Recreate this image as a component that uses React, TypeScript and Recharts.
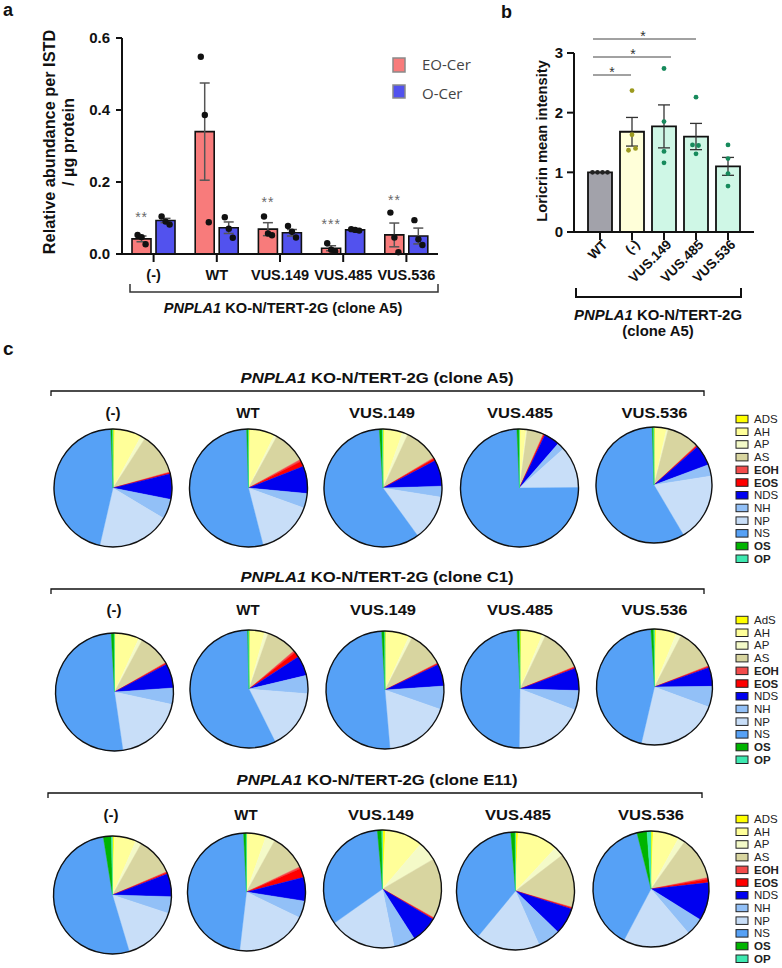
import React from 'react';
import { ComposedChart, Bar, Scatter, XAxis, YAxis, ErrorBar, PieChart, Pie, Cell } from 'recharts';

const SANS = "'Liberation Sans', Arial, Helvetica, sans-serif";

// panel a: EO-Cer / O-Cer per ISTD
const groups = ['(-)', 'WT', 'VUS.149', 'VUS.485', 'VUS.536'];
const eoCer = [0.042, 0.340, 0.069, 0.016, 0.053];
const eoCerSem = [0.008, 0.135, 0.018, 0.007, 0.033];
const eoCerReps = [
  [0.053, 0.047, 0.027],
  [0.548, 0.386, 0.088],
  [0.104, 0.057, 0.052],
  [0.030, 0.012, 0.007],
  [0.115, 0.046, 0.005],
];
const oCer = [0.093, 0.073, 0.059, 0.067, 0.050];
const oCerSem = [0.006, 0.016, 0.009, 0.001, 0.022];
const oCerReps = [
  [0.104, 0.090, 0.082],
  [0.102, 0.070, 0.045],
  [0.078, 0.062, 0.046],
  [0.069, 0.067, 0.065],
  [0.094, 0.041, 0.025],
];
const eoStars = ['**', '', '**', '***', '**'];
const eoStarLevel = [0.114, null, 0.156, 0.094, 0.161];

// panel b: loricrin
const loricrinGroups = ['WT', '(-)', 'VUS.149', 'VUS.485', 'VUS.536'];
const loricrin = [1.0, 1.68, 1.77, 1.60, 1.10];
const loricrinSem = [null, 0.24, 0.36, 0.22, 0.15];
const loricrinReps = [
  [1.0, 1.0, 1.0, 1.0],
  [2.37, 1.63, 1.37, 1.40],
  [2.74, 1.85, 1.35, 1.16],
  [2.26, 1.46, 1.45, 1.31],
  [1.46, 1.23, 0.98, 0.77],
];

// panel c: ceramide class composition (%), order = lipidClasses
const lipidClasses = ['ADS', 'AH', 'AP', 'AS', 'EOH', 'EOS', 'NDS', 'NH', 'NP', 'NS', 'OS', 'OP'];
const a5Neg = [0.5, 7.4, 1.2, 11.5, 0.2, 0.3, 7.0, 5.5, 20.0, 45.8, 0.5, 0.1];
const a5WT = [0.4, 6.8, 0.8, 9.0, 0.5, 1.5, 7.5, 4.0, 15.5, 53.5, 0.4, 0.1];
const a5V149 = [0.4, 5.0, 1.5, 9.5, 0.3, 0.6, 7.2, 3.0, 12.5, 59.0, 0.8, 0.2];
const a5V485 = [0.3, 1.5, 0.3, 4.5, 0.2, 0.3, 4.3, 2.0, 11.5, 74.5, 0.6, 0.1];
const a5V536 = [0.3, 3.2, 0.5, 9.0, 0.2, 0.3, 5.8, 3.2, 19.0, 58.0, 0.4, 0.1];
const c1Neg = [0.3, 6.5, 1.0, 8.9, 0.2, 0.3, 6.7, 4.5, 19.3, 51.4, 0.8, 0.1];
const c1WT = [0.3, 4.0, 1.0, 8.5, 0.5, 1.5, 5.5, 5.0, 16.4, 57.0, 0.3, 0.1];
const c1V149 = [0.3, 6.4, 0.9, 9.8, 0.2, 0.3, 6.0, 6.4, 18.3, 50.4, 0.8, 0.1];
const c1V485 = [0.4, 5.8, 0.9, 11.7, 0.2, 0.3, 6.1, 5.4, 19.4, 49.0, 0.7, 0.1];
const c1V536 = [0.5, 5.7, 1.4, 11.4, 0.2, 0.3, 5.3, 5.8, 23.0, 45.3, 0.8, 0.2];
const e11Neg = [0.5, 6.0, 1.6, 10.4, 0.2, 0.4, 6.3, 4.6, 15.3, 52.0, 2.2, 0.3];
const e11WT = [0.3, 5.1, 2.6, 10.0, 0.5, 2.5, 6.5, 4.7, 19.7, 47.4, 0.7, 0.1];
const e11V149 = [0.8, 10.4, 5.3, 16.5, 0.2, 0.3, 7.3, 5.9, 18.3, 33.3, 1.2, 0.2];
const e11V485 = [0.7, 11.2, 2.7, 14.9, 0.2, 0.3, 7.3, 6.2, 17.6, 37.8, 1.2, 0.1];
const e11V536 = [0.6, 7.3, 1.9, 12.0, 0.4, 1.0, 10.6, 4.9, 18.9, 38.3, 2.8, 1.1];

const cloneNames = ['A5', 'C1', 'E11'];
const legendFirstLabel = ['ADS', 'AdS', 'ADS'];
const pieRows = [
  [a5Neg, a5WT, a5V149, a5V485, a5V536],
  [c1Neg, c1WT, c1V149, c1V485, c1V536],
  [e11Neg, e11WT, e11V149, e11V485, e11V536],
];

// styling
const EO_COLOR = '#F87B7B';
const O_COLOR = '#5252EE';
const lipidColors = ['#FFFF00', '#FFFF99', '#F4FAC8', '#D8D5A0', '#F24B4B', '#FF0000', '#0000F0', '#92C0F7', '#C8DEF8', '#56A1F6', '#00B400', '#3DE8B0'];
const boldClasses = ['EOH', 'EOS', 'OS', 'OP'];
const loricrinFill = ['#A2A2AA', '#FFFFD9', '#CFF7E6', '#CFF7E6', '#CFF7E6'];
const loricrinDot = ['#222222', '#9C9A1E', '#178A5C', '#178A5C', '#178A5C'];
const repJitterA = [-4, 0, 4];
const repJitterB = [[-7.5, -2.5, 2.5, 7.5], [0, 0, -3.5, 3.5], [0, 0, 0, 0], [0, -3.5, 2.5, 0], [0, 0, 0, 0]];

const rowTop = [420, 620, 820];
const pieCenters = [
  [[113, 488], [248.5, 488], [383, 488], [519.5, 488], [654, 485]],
  [[114.5, 692], [249, 689], [385, 690], [520, 689], [654.5, 687]],
  [[112.5, 895], [246.5, 892], [382.5, 889], [515.5, 891], [651, 889]],
];
const pieRadius = [59, 59, 59, 59, 58];
const colLabelBase = [418, 615, 820];
const colLabelX = [[113, 248, 382, 520, 654.5], [114, 248, 383, 520, 654.5], [111, 246, 381, 518, 651]];
const titleBase = [383, 582, 785];
const bracketY = [391, 589, 793];
const bracketX = [[51, 704], [51, 704], [48, 702]];
const legendTop = [419, 620, 819];

const dataA = groups.map((g, i) => ({
  group: g,
  eo: eoCer[i],
  eoErr: eoCerSem[i],
  o: oCer[i],
  oErr: oCerSem[i],
  eo0: eoCerReps[i][0], eo1: eoCerReps[i][1], eo2: eoCerReps[i][2],
  o0: oCerReps[i][0], o1: oCerReps[i][1], o2: oCerReps[i][2],
  star: eoStarLevel[i],
  starText: eoStars[i],
}));

const dataB = loricrinGroups.map((g, i) => ({
  group: g,
  mean: loricrin[i],
  sem: loricrinSem[i],
  r0: loricrinReps[i][0], r1: loricrinReps[i][1], r2: loricrinReps[i][2], r3: loricrinReps[i][3],
}));

const dotShape = (dx: number) => (p: any) =>
  p.cy == null || isNaN(p.cy) ? <g /> : <circle cx={p.cx + dx} cy={p.cy} r={3.2} fill="#111" />;

const starShape = (p: any) =>
  p.cy == null || isNaN(p.cy) || !p.payload?.starText ? <g /> : (
    <text x={p.cx - 12} y={p.cy + 9} textAnchor="middle" fontSize={14} fill="#6a6a6a" fontFamily={SANS} letterSpacing={1}>
      {p.payload.starText}
    </text>
  );

const lorDotShape = (k: number) => (p: any) => {
  if (p.cy == null || isNaN(p.cy)) return <g />;
  const gi = loricrinGroups.indexOf(p.payload?.group);
  return <circle cx={p.cx + repJitterB[gi][k]} cy={p.cy} r={2.4} fill={loricrinDot[gi]} />;
};

const RotTick = (p: any) => (
  <g transform={`translate(${p.x + 5},${p.y - 2})`}>
    <text x={0} y={0} dy="0.35em" textAnchor="end" transform="rotate(-45)" fontSize={13.5} fontWeight={700} fill="#111" fontFamily={SANS}>
      {p.payload.value}
    </text>
  </g>
);

const axisStyle = { stroke: '#111', strokeWidth: 2 };

function PanelA() {
  return (
    <div style={{ position: 'absolute', left: 0, top: 0 }}>
      <ComposedChart width={470} height={330} data={dataA} margin={{ top: 38, right: 32, bottom: 46, left: 0 }} barGap={5}>
        <XAxis dataKey="group" height={30} interval={0} axisLine={axisStyle} tickLine={axisStyle} tickSize={8} tickMargin={8}
          tick={{ fill: '#111', fontSize: 14.5, fontWeight: 700, fontFamily: SANS }} />
        <YAxis width={122} domain={[0, 0.6]} ticks={[0, 0.2, 0.4, 0.6]} tickFormatter={(v: number) => v.toFixed(1)}
          axisLine={axisStyle} tickLine={axisStyle} tickSize={6} tickMargin={6}
          tick={{ fill: '#111', fontSize: 15, fontWeight: 700, fontFamily: SANS }} />
        <Bar dataKey="eo" barSize={19} fill={EO_COLOR} stroke="#111" strokeWidth={1.6} isAnimationActive={false}>
          <ErrorBar dataKey="eoErr" width={5} stroke="#555" strokeWidth={1.5} />
        </Bar>
        <Bar dataKey="o" barSize={19} fill={O_COLOR} stroke="#111" strokeWidth={1.6} isAnimationActive={false}>
          <ErrorBar dataKey="oErr" width={5} stroke="#555" strokeWidth={1.5} />
        </Bar>
        {[0, 1, 2].map((k) => (
          <Scatter key={'eo' + k} dataKey={'eo' + k} shape={dotShape(-12 + repJitterA[k])} legendType="none" isAnimationActive={false} />
        ))}
        {[0, 1, 2].map((k) => (
          <Scatter key={'o' + k} dataKey={'o' + k} shape={dotShape(12 + repJitterA[k])} legendType="none" isAnimationActive={false} />
        ))}
        <Scatter dataKey="star" shape={starShape} legendType="none" isAnimationActive={false} />
      </ComposedChart>
    </div>
  );
}

function PanelB() {
  return (
    <div style={{ position: 'absolute', left: 470, top: 0 }}>
      <ComposedChart width={312} height={340} data={dataB} margin={{ top: 53, right: 28, bottom: 38, left: 0 }}>
        <XAxis dataKey="group" height={70} interval={0} padding={{ left: 10, right: 10 }} axisLine={axisStyle} tickLine={axisStyle}
          tickSize={8} tickMargin={4} tick={<RotTick />} />
        <YAxis width={104} domain={[0, 3]} ticks={[0, 1, 2, 3]} axisLine={axisStyle} tickLine={axisStyle} tickSize={7} tickMargin={4}
          tick={{ fill: '#111', fontSize: 15, fontWeight: 700, fontFamily: SANS }} />
        <Bar dataKey="mean" barSize={24} stroke="#111" strokeWidth={1.8} isAnimationActive={false}>
          {dataB.map((d, i) => (
            <Cell key={d.group} fill={loricrinFill[i]} />
          ))}
          <ErrorBar dataKey="sem" width={6} stroke="#333" strokeWidth={1.3} />
        </Bar>
        {[0, 1, 2, 3].map((k) => (
          <Scatter key={'r' + k} dataKey={'r' + k} shape={lorDotShape(k)} legendType="none" isAnimationActive={false} />
        ))}
      </ComposedChart>
    </div>
  );
}

function PieRow({ row }: { row: number }) {
  const top = rowTop[row];
  const pies = pieRows[row];
  return (
    <div style={{ position: 'absolute', left: 0, top }}>
      <PieChart width={720} height={140} margin={{ top: 0, right: 0, bottom: 0, left: 0 }}>
        {pies.map((vals, k) => {
          const data = lipidClasses.map((c, j) => ({ name: c, value: vals[j] }));
          return (
            <Pie key={'p' + k} data={data} dataKey="value" nameKey="name" cx={pieCenters[row][k][0]} cy={pieCenters[row][k][1] - top}
              outerRadius={pieRadius[k]} startAngle={90} endAngle={-270} isAnimationActive={false} legendType="none">
              {data.map((d, j) => (
                <Cell key={d.name} fill={lipidColors[j]} stroke={lipidColors[j]} strokeWidth={0.4} />
              ))}
            </Pie>
          );
        })}
        {pies.map((vals, k) => (
          <Pie key={'o' + k} data={[{ name: 'all', value: 1 }]} dataKey="value" cx={pieCenters[row][k][0]} cy={pieCenters[row][k][1] - top}
            innerRadius={pieRadius[k]} outerRadius={pieRadius[k]} startAngle={90} endAngle={-270} fill="none" stroke="#111"
            strokeWidth={1.4} isAnimationActive={false} legendType="none" />
        ))}
      </PieChart>
    </div>
  );
}

const CloneTitle = ({ x, y, clone, size, len }: { x: number; y: number; clone: string; size: number; len?: number }) => (
  <text x={x} y={y} textAnchor="middle" fontSize={size} fontWeight={700} fill="#111" fontFamily={SANS}
    textLength={len} lengthAdjust={len ? 'spacingAndGlyphs' : undefined}>
    <tspan fontStyle="italic">PNPLA1</tspan> KO-N/TERT-2G{clone ? ` (clone ${clone})` : ''}
  </text>
);

function Overlay() {
  return (
    <svg width={782} height={968} style={{ position: 'absolute', left: 0, top: 0, pointerEvents: 'none' }} fontFamily={SANS}>
      <text x={3} y={16} fontSize={18} fontWeight={700} fill="#111">a</text>
      <text x={501} y={18} fontSize={18} fontWeight={700} fill="#111">b</text>
      <text x={3} y={355} fontSize={19} fontWeight={700} fill="#111">c</text>

      {/* panel a */}
      <text transform="translate(55,142) rotate(-90)" textAnchor="middle" fontSize={16.3} fontWeight={700} fill="#111">Relative abundance per ISTD</text>
      <text transform="translate(74,142) rotate(-90)" textAnchor="middle" fontSize={16.3} fontWeight={700} fill="#111">/ µg protein</text>
      <rect x={393} y={58} width={12} height={14} fill={EO_COLOR} stroke="#8a8a8a" strokeWidth={1.5} />
      <text x={422} y={70} fontSize={15} fill="#444" fontFamily="'Open Sans', sans-serif">EO-Cer</text>
      <rect x={393} y={85} width={12} height={13} fill={O_COLOR} stroke="#8a8a8a" strokeWidth={1.5} />
      <text x={422} y={99} fontSize={15} fill="#444" fontFamily="'Open Sans', sans-serif">O-Cer</text>
      <path d="M130 284 V292 H438 V284" fill="none" stroke="#333" strokeWidth={1.5} />
      <CloneTitle x={283} y={313} clone="A5" size={14.6} />

      {/* panel b */}
      <text transform="translate(547,141) rotate(-90)" textAnchor="middle" fontSize={14.7} fontWeight={700} fill="#111">Loricrin mean intensity</text>
      {[[696, 39, 643], [671, 57, 633], [631, 75, 612]].map(([x2, y, sx]) => (
        <g key={y}>
          <line x1={593} x2={x2} y1={y} y2={y} stroke="#444" strokeWidth={1} />
          <text x={sx} y={y + 2} textAnchor="middle" fontSize={14} fill="#333">*</text>
        </g>
      ))}
      <path d="M576 288 V297 H741 V288" fill="none" stroke="#111" strokeWidth={2} />
      <CloneTitle x={658} y={320} clone="" size={14.9} />
      <text x={658} y={336} textAnchor="middle" fontSize={14.9} fontWeight={700} fill="#111">(clone A5)</text>

      {/* panel c */}
      {cloneNames.map((cl, r) => (
        <g key={cl}>
          <CloneTitle x={377} y={titleBase[r]} clone={cl} size={14.5} len={273 + (cl === 'E11' ? 8 : 0)} />
          <path d={`M${bracketX[r][0]} ${bracketY[r] + 5} V${bracketY[r]} H${bracketX[r][1]} V${bracketY[r] + 5}`} fill="none" stroke="#111" strokeWidth={1.3} />
          {groups.map((g, k) => (
            <text key={g} x={colLabelX[r][k]} y={colLabelBase[r]} textAnchor="middle" fontSize={15} fontWeight={700} fill="#111"
              textLength={g.startsWith('VUS') ? 66 : undefined} lengthAdjust="spacingAndGlyphs">{g}</text>
          ))}
          {lipidClasses.map((c, j) => (
            <g key={c}>
              <rect x={736} y={legendTop[r] + j * 12.7 - 3.7} width={12} height={7.5} fill={lipidColors[j]} stroke="#222" strokeWidth={1} />
              <text x={754} y={legendTop[r] + j * 12.7 + 4} fontSize={11.5} fill="#222" fontWeight={boldClasses.includes(c) ? 700 : 400}>
                {j === 0 ? legendFirstLabel[r] : c}
              </text>
            </g>
          ))}
        </g>
      ))}
    </svg>
  );
}

export default function App() {
  return (
    <div style={{ position: 'absolute', left: 0, top: 0, width: 782, height: 968, background: '#fff', overflow: 'hidden' }}>
      <PanelA />
      <PanelB />
      <PieRow row={0} />
      <PieRow row={1} />
      <PieRow row={2} />
      <Overlay />
    </div>
  );
}
